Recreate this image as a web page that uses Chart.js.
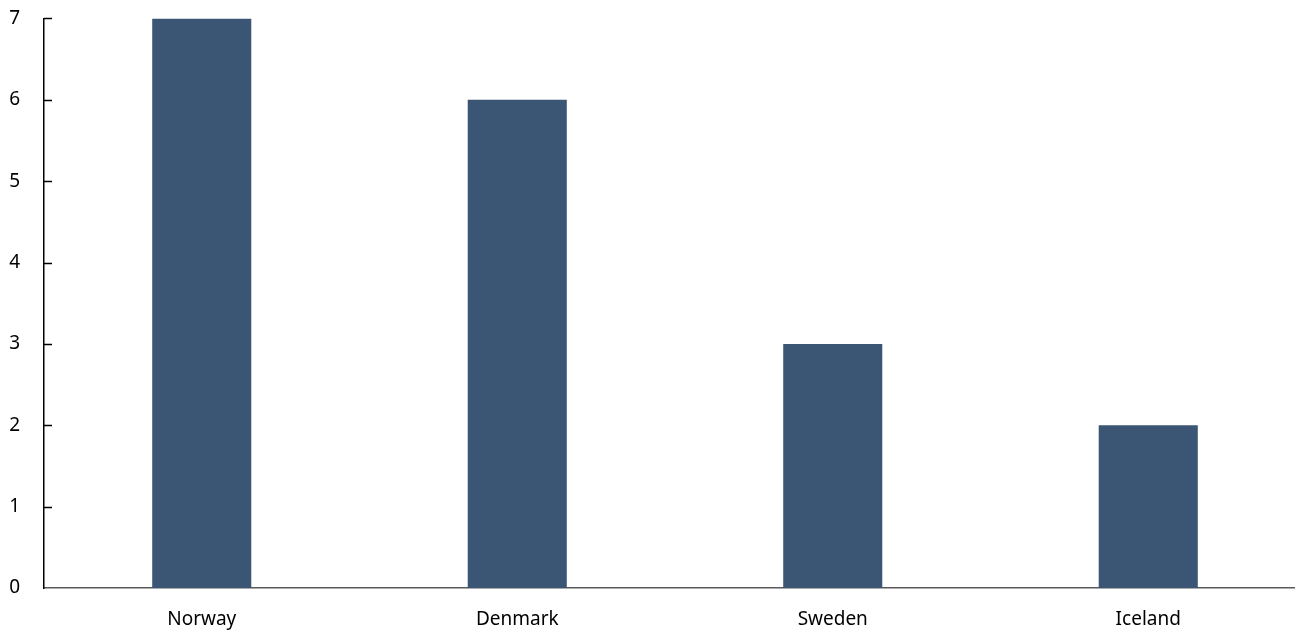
<!DOCTYPE html>
<html>
<head>
<meta charset="utf-8">
<script src="https://cdn.jsdelivr.net/npm/chart.js@4/dist/chart.umd.min.js"></script>
<style>
  html, body { margin: 0; padding: 0; background: #fff; overflow: hidden; }
  #wrap { position: relative; width: 1306px; height: 647px; margin-top: -17px; }
</style>
</head>
<body>
<div id="wrap"><canvas id="c"></canvas></div>
<script>
const categories = ["Norway", "Denmark", "Sweden", "Iceland"];
const values = [7, 6, 3, 2];
const yTicks = [0, 1, 2, 3, 4, 5, 6, 7];

const innerTicks = {
  id: 'innerTicks',
  afterDraw(chart) {
    const y = chart.scales.y;
    const ctx = chart.ctx;
    ctx.save();
    ctx.strokeStyle = '#000';
    ctx.lineWidth = 1.5;
    y.ticks.forEach(t => {
      if (t.value === 0) return;
      const py = Math.round(y.getPixelForValue(t.value)) + 0.5;
      ctx.beginPath();
      ctx.moveTo(y.right, py);
      ctx.lineTo(y.right + 8, py);
      ctx.stroke();
    });
    ctx.restore();
  }
};

new Chart(document.getElementById('c'), {
  type: 'bar',
  data: {
    labels: categories,
    datasets: [{
      data: values,
      backgroundColor: '#3A5674',
      barPercentage: 0.314,
      categoryPercentage: 1.0
    }]
  },
  options: {
    responsive: true,
    maintainAspectRatio: false,
    animation: false,
    layout: { padding: { top: 1, right: 0, left: 0, bottom: 0 } },
    plugins: { legend: { display: false }, tooltip: { enabled: false } },
    scales: {
      x: {
        grid: { display: false, drawTicks: false },
        border: { display: true, color: '#595959', width: 1.5 },
        ticks: { padding: 20, color: '#000', font: { family: 'Noto Sans', size: 19 } },
        afterFit(s) { s.height = 42; }
      },
      y: {
        min: 0, max: 7,
        afterBuildTicks(s) { s.ticks = yTicks.map(v => ({ value: v })); },
        grid: { display: false, drawTicks: false },
        border: { display: true, color: '#000', width: 1.5 },
        ticks: { padding: 24, color: '#000', font: { family: 'Noto Sans', size: 19 } },
        afterFit(s) { s.width = 44; }
      }
    }
  },
  plugins: [innerTicks]
});
</script>
</body>
</html>
